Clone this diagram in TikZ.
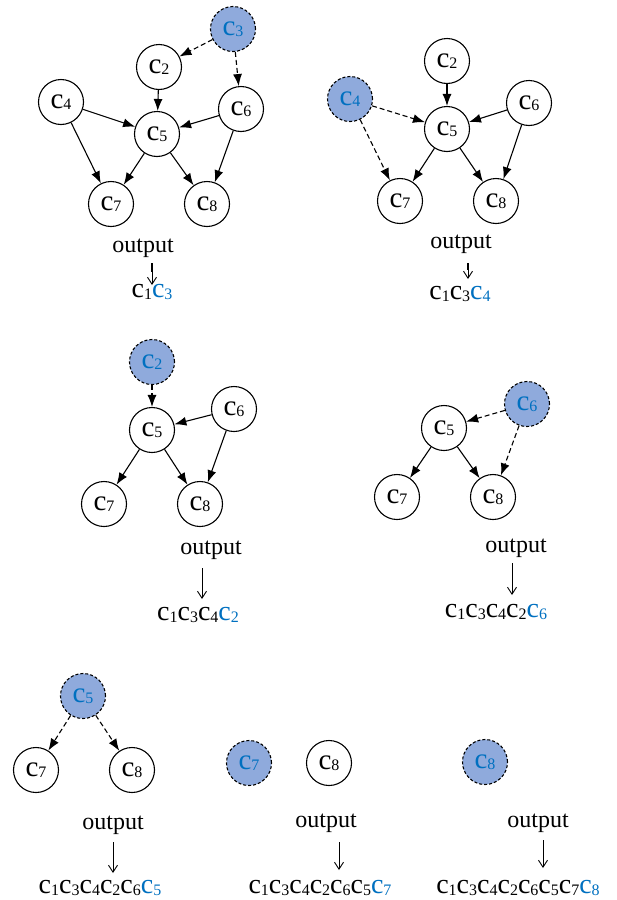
\documentclass[tikz,border=0pt]{standalone}
\usepackage{fontspec}
\setmainfont{Liberation Serif}
\usetikzlibrary{arrows.meta}
\definecolor{nodeblue}{HTML}{8FAADC}
\definecolor{txtblue}{HTML}{0070C0}
\newcommand{\cn}[1]{c\raisebox{-1.5pt}{\fontsize{16}{16}\selectfont #1}}
\newcommand{\cb}[1]{\textcolor{txtblue}{\cn{#1}}}
\begin{document}
\begin{tikzpicture}[x=1pt,y=-1pt,
 vtx/.style={circle,draw,line width=1.1pt,minimum size=45pt,inner sep=0pt,font=\fontsize{29}{29}\selectfont},
 cur/.style={vtx,fill=nodeblue,dash pattern=on 3pt off 2pt,text=txtblue},
 edge/.style={-{Latex[length=12pt,width=9pt]},line width=1.1pt},
 dedge/.style={edge,dash pattern=on 5pt off 3pt},
 lbl/.style={font=\fontsize{24}{24}\selectfont,inner sep=0pt},
 res/.style={font=\fontsize{28}{28}\selectfont,inner sep=0pt},
 oarr/.style={-{Straight Barb[length=7pt,width=9pt]},line width=0.9pt}]
\useasboundingbox (0,0) rectangle (617,900);

% ---------- panel 1 ----------
\node[cur] (a3) at (233,29) {\cn{3}};
\node[vtx] (a2) at (159,67) {\cn{2}};
\node[vtx] (a4) at (61,102) {\cn{4}};
\node[vtx] (a5) at (157,134) {\cn{5}};
\node[vtx] (a6) at (241,109) {\cn{6}};
\node[vtx] (a7) at (111,204) {\cn{7}};
\node[vtx] (a8) at (207,204) {\cn{8}};
\draw[dedge] (a3) -- (a2);
\draw[dedge] (a3) -- (a6);
\draw[edge] (a2) -- (a5);
\draw[edge] (a4) -- (a5);
\draw[edge] (a4) -- (a7);
\draw[edge] (a6) -- (a5);
\draw[edge] (a6) -- (a8);
\draw[edge] (a5) -- (a7);
\draw[edge] (a5) -- (a8);
\node[lbl] (ao) at (143,248) {output};
\coordinate (aos) at (152,263);
\coordinate (aom) at (152,272);
\coordinate (aoe) at (152,285);
\draw[line width=2.4pt] (aos) -- (aom);
\draw[oarr] (aos) -- (aoe);
\node[res] (ar) at (152,292) {\cn{1}\cb{3}};

% ---------- panel 2 ----------
\node[vtx] (b2) at (447,61) {\cn{2}};
\node[cur] (b4) at (350,99) {\cn{4}};
\node[vtx] (b5) at (447,129) {\cn{5}};
\node[vtx] (b6) at (529,103) {\cn{6}};
\node[vtx] (b7) at (400,201) {\cn{7}};
\node[vtx] (b8) at (496,201) {\cn{8}};
\draw[dedge] (b4) -- (b5);
\draw[dedge] (b4) -- (b7);
\draw[edge] (b2) -- (b5);
\draw[edge] (b6) -- (b5);
\draw[edge] (b6) -- (b8);
\draw[edge] (b5) -- (b7);
\draw[edge] (b5) -- (b8);
\node[lbl] (bo) at (461,244) {output};
\coordinate (bos) at (468,263);
\coordinate (bom) at (468,270);
\coordinate (boe) at (468,279);
\draw[line width=2.4pt] (bos) -- (bom);
\draw[oarr] (bos) -- (boe);
\node[res] (br) at (460,294) {\cn{1}\cn{3}\cb{4}};

% ---------- panel 3 ----------
\node[cur] (c2) at (152,362) {\cn{2}};
\node[vtx] (c5) at (152,430) {\cn{5}};
\node[vtx] (c6) at (234,409) {\cn{6}};
\node[vtx] (c7) at (104,504) {\cn{7}};
\node[vtx] (c8) at (200,504) {\cn{8}};
\draw[dedge] (c2) -- (c5);
\draw[edge] (c6) -- (c5);
\draw[edge] (c6) -- (c8);
\draw[edge] (c5) -- (c7);
\draw[edge] (c5) -- (c8);
\node[lbl] (co) at (211,550) {output};
\coordinate (cos) at (202,568);
\coordinate (coe) at (202,599);
\draw[oarr] (cos) -- (coe);
\node[res] (cr) at (198,615) {\cn{1}\cn{3}\cn{4}\cb{2}};

% ---------- panel 4 ----------
\node[cur] (d6) at (527,404) {\cn{6}};
\node[vtx] (d5) at (444,428) {\cn{5}};
\node[vtx] (d7) at (397,497) {\cn{7}};
\node[vtx] (d8) at (493,497) {\cn{8}};
\draw[dedge] (d6) -- (d5);
\draw[dedge] (d6) -- (d8);
\draw[edge] (d5) -- (d7);
\draw[edge] (d5) -- (d8);
\node[lbl] (do) at (516,548) {output};
\coordinate (dos) at (512,563);
\coordinate (doe) at (512,595);
\draw[oarr] (dos) -- (doe);
\node[res] (dr) at (496,612) {\cn{1}\cn{3}\cn{4}\cn{2}\cb{6}};

% ---------- panel 5 ----------
\node[cur] (e5) at (83,696) {\cn{5}};
\node[vtx] (e7) at (36,770) {\cn{7}};
\node[vtx] (e8) at (132,770) {\cn{8}};
\draw[dedge] (e5) -- (e7);
\draw[dedge] (e5) -- (e8);
\node[lbl] (eo) at (113,825) {output};
\coordinate (eos) at (113,842);
\coordinate (eoe) at (113,873);
\draw[oarr] (eos) -- (eoe);
\node[res] (er) at (100,888) {\cn{1}\cn{3}\cn{4}\cn{2}\cn{6}\cb{5}};

% ---------- panel 6 ----------
\node[cur] (f7) at (249,763) {\cn{7}};
\node[vtx] (f8) at (329,763) {\cn{8}};
\node[lbl] (fo) at (326,823) {output};
\coordinate (fos) at (339,842);
\coordinate (foe) at (339,870);
\draw[oarr] (fos) -- (foe);
\node[res] (fr) at (320,888) {\cn{1}\cn{3}\cn{4}\cn{2}\cn{6}\cn{5}\cb{7}};

% ---------- panel 7 ----------
\node[cur] (g8) at (485,762) {\cn{8}};
\node[lbl] (go) at (538,823) {output};
\coordinate (gos) at (543,840);
\coordinate (goe) at (543,868);
\draw[oarr] (gos) -- (goe);
\node[res] (gr) at (518,888) {\cn{1}\cn{3}\cn{4}\cn{2}\cn{6}\cn{5}\cn{7}\cb{8}};
\end{tikzpicture}
\end{document}
